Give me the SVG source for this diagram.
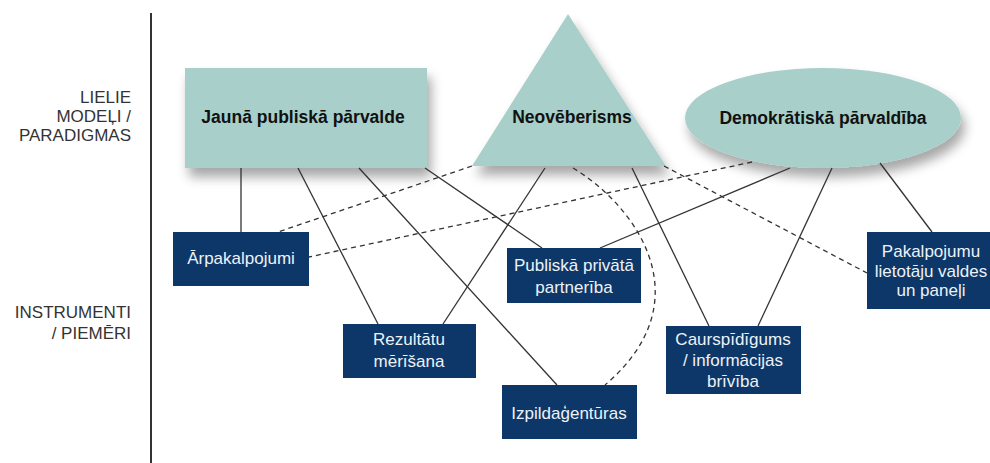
<svg xmlns="http://www.w3.org/2000/svg" width="990" height="463" viewBox="0 0 990 463">
  <style>
    .axis { stroke: #333; stroke-width: 2; fill: none; }
    .side { font-family: "Liberation Sans", Arial, sans-serif; font-size: 17px; fill: #333; text-anchor: end; }
    .model { fill: #a8cfc9; filter: url(#shade); }
    .model-text { font-family: "Liberation Sans", Arial, sans-serif; font-size: 17.5px; font-weight: bold; fill: #111; text-anchor: middle; }
    .tool { fill: #0c3768; }
    .tool-text { font-family: "Liberation Sans", Arial, sans-serif; font-size: 17px; fill: #eef2f7; text-anchor: middle; }
    .link { stroke: #333; stroke-width: 1.3; fill: none; }
    .weak { stroke: #333; stroke-width: 1.3; fill: none; stroke-dasharray: 5 4; }
  </style>
  <defs>
    <filter id="shade" x="-20%" y="-20%" width="150%" height="160%">
      <feGaussianBlur in="SourceAlpha" stdDeviation="6"/>
      <feOffset dx="4" dy="9" result="blur"/>
      <feComponentTransfer><feFuncA type="linear" slope="0.35"/></feComponentTransfer>
      <feMerge><feMergeNode/><feMergeNode in="SourceGraphic"/></feMerge>
    </filter>
  </defs>

  <rect width="990" height="463" fill="#ffffff"/>

  <!-- row labels and divider -->
  <line class="axis" x1="151" y1="13" x2="151" y2="463"/>
  <text class="side" x="131"><tspan x="131" y="103">LIELIE</tspan><tspan x="131" y="122">MODEĻI /</tspan><tspan x="131" y="141">PARADIGMAS</tspan></text>
  <text class="side" x="131"><tspan x="131" y="318">INSTRUMENTI</tspan><tspan x="131" y="339">/ PIEMĒRI</tspan></text>

  <!-- top-level models -->
  <g id="jauna-publiska-parvalde">
    <rect class="model" x="185" y="68" width="242" height="100"/>
    <text class="model-text" x="303" y="123">Jaunā publiskā pārvalde</text>
  </g>
  <g id="neoveberisms">
    <polygon class="model" points="568,14 666,166 472,166"/>
    <text class="model-text" x="572" y="123">Neovēberisms</text>
  </g>
  <g id="demokratiska-parvaldiba">
    <ellipse class="model" cx="823" cy="118" rx="138" ry="50"/>
    <text class="model-text" x="823" y="124">Demokrātiskā pārvaldība</text>
  </g>

  <!-- connectors -->
  <g id="connectors">
    <line class="link" x1="241" y1="168" x2="241" y2="232"/>
    <line class="link" x1="298" y1="168" x2="378" y2="324"/>
    <line class="link" x1="359" y1="168" x2="557" y2="385"/>
    <line class="link" x1="425" y1="168" x2="542" y2="248"/>
    <line class="link" x1="545" y1="168" x2="443" y2="324"/>
    <line class="link" x1="632" y1="168" x2="709" y2="326"/>
    <line class="link" x1="790" y1="168" x2="600" y2="248"/>
    <line class="link" x1="832" y1="168" x2="758" y2="326"/>
    <line class="link" x1="880" y1="163" x2="932" y2="232"/>
    <line class="weak" x1="472" y1="166" x2="278" y2="232"/>
    <line class="weak" x1="752" y1="162" x2="309" y2="257"/>
    <line class="weak" x1="664" y1="166" x2="867" y2="273"/>
    <path class="weak" d="M573,168 C635,205 705,300 605,385"/>
  </g>

  <!-- instruments -->
  <g id="arpakalpojumi">
    <rect class="tool" x="173" y="232" width="136" height="54"/>
    <text class="tool-text" x="241" y="264">Ārpakalpojumi</text>
  </g>
  <g id="publiska-privata-partneriba">
    <rect class="tool" x="507" y="248" width="134" height="55"/>
    <text class="tool-text"><tspan x="574" y="271">Publiskā privātā</tspan><tspan x="574" y="293">partnerība</tspan></text>
  </g>
  <g id="pakalpojumu-lietotaju-valdes">
    <rect class="tool" x="867" y="232" width="130" height="77"/>
    <text class="tool-text"><tspan x="931" y="257">Pakalpojumu</tspan><tspan x="931" y="277">lietotāju valdes</tspan><tspan x="931" y="296">un paneļi</tspan></text>
  </g>
  <g id="rezultatu-merisana">
    <rect class="tool" x="343" y="324" width="133" height="54"/>
    <text class="tool-text"><tspan x="409" y="345">Rezultātu</tspan><tspan x="409" y="367">mērīšana</tspan></text>
  </g>
  <g id="izpildagenturas">
    <rect class="tool" x="502" y="385" width="135" height="54"/>
    <text class="tool-text" x="569" y="419">Izpildaģentūras</text>
  </g>
  <g id="caurspidigums">
    <rect class="tool" x="666" y="326" width="135" height="68"/>
    <text class="tool-text"><tspan x="733" y="345">Caurspīdīgums</tspan><tspan x="733" y="366">/ informācijas</tspan><tspan x="733" y="387">brīvība</tspan></text>
  </g>
</svg>
